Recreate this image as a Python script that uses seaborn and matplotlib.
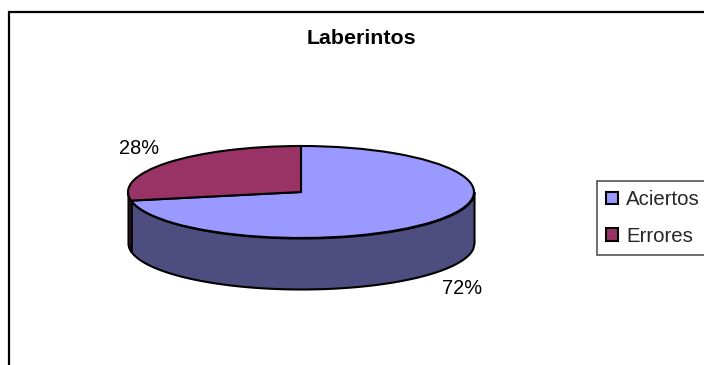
import numpy as np
import matplotlib
matplotlib.use("Agg")
import matplotlib.pyplot as plt
from matplotlib.patches import Rectangle
import seaborn as sns

# Chart content
title = "Laberintos"
categories = ["Aciertos", "Errores"]
values = [72, 28]
top_colors = ["#9999FF", "#993366"]
side_colors = ["#4D4D7F", "#4D1A33"]

W, H = 704, 365
CX, CY, RX, RY, DEPTH = 301, 192, 173, 46, 51

sns.set_theme(style="white")
plt.rcParams["font.family"] = ["Liberation Sans", "DejaVu Sans"]
palette = sns.color_palette(top_colors)

fig = plt.figure(figsize=(W / 100, H / 100), dpi=100, facecolor="white")
ax = fig.add_axes([0, 0, 1, 1])

# Outer chart frame, running off the right and bottom edges
fig.add_artist(Rectangle((9 / W, -0.05), 1.0, 1.05 - 11.5 / H,
                         transform=fig.transFigure, fill=False,
                         edgecolor="black", linewidth=1.6))

wedges, _ = ax.pie(values, colors=palette, startangle=90, counterclock=False,
                   wedgeprops=dict(edgecolor="black", linewidth=1.5, zorder=3))

# Flatten the disc into an ellipse by dropping the equal aspect
ax.set_aspect("auto")
ax.set_xlim(-CX / RX, (W - CX) / RX)
ax.set_ylim(-(H - CY) / RY, CY / RY)
ax.axis("off")

# Side wall of the disc, split where the slice boundary meets the rim
depth = DEPTH / RY
split = -np.sin(2 * np.pi * values[1] / sum(values))
for (lo, hi), colour in zip([(split, 1.0), (-1.0, split)], side_colors):
    x = np.linspace(lo, hi, 300)
    rim = -np.sqrt(np.clip(1 - x ** 2, 0, None))
    ax.fill_between(x, rim, rim - depth, facecolor=colour,
                    edgecolor="black", linewidth=1.5, zorder=2)

# Percentage labels
label_px = [(462, 289), (139, 148.5)]
for v, (px, py) in zip(values, label_px):
    ax.text((px - CX) / RX, (CY - py) / RY, f"{v}%", ha="center", va="center",
            fontsize=14.4, color="black")

fig.text(361 / W, 1 - 38.5 / H, title, ha="center", va="center",
         fontsize=15.4, fontweight="bold", color="black")

# Legend box, cut off by the right edge of the figure
leg = fig.legend(wedges, categories, loc="upper left",
                 bbox_to_anchor=(597 / W, 1 - 254 / H, 120 / W, 73 / H),
                 bbox_transform=fig.transFigure, mode="expand",
                 fontsize=14.7, frameon=True, fancybox=False, framealpha=1,
                 edgecolor="#555555", borderaxespad=0, borderpad=0.45,
                 handlelength=0.59, handleheight=0.59, handletextpad=0.39,
                 labelspacing=0.87)
leg.get_frame().set_linewidth(1.2)

fig.savefig("out.png", dpi=100)
